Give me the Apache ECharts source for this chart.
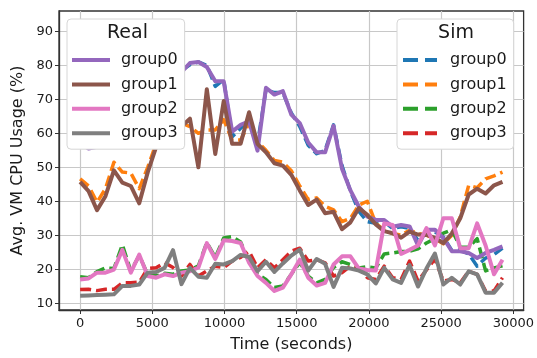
<!DOCTYPE html>
<html>
<head>
<meta charset="utf-8">
<script src="https://cdn.jsdelivr.net/npm/echarts@6/dist/echarts.min.js"></script>
<style>
  html, body { margin: 0; padding: 0; background: #fff; }
  #chart { width: 537px; height: 358px; }
</style>
</head>
<body>
<div id="chart"></div>
<script>
// Sample times (seconds)
const times = [0, 585, 1170, 1755, 2340, 2925, 3510, 4095, 4680, 5265,
  5850, 6435, 7020, 7605, 8190, 8775, 9360, 9945, 10530, 11115,
  11700, 12285, 12870, 13455, 14040, 14625, 15210, 15795, 16380, 16965,
  17550, 18135, 18720, 19305, 19890, 20475, 21060, 21645, 22230, 22815,
  23400, 23985, 24570, 25155, 25740, 26325, 26910, 27495, 28080, 28665, 29250];

const groupNames = ['group0', 'group1', 'group2', 'group3'];
const xTicks = [0, 5000, 10000, 15000, 20000, 25000, 30000];
const yTicks = [10, 20, 30, 40, 50, 60, 70, 80, 90];

// Measured CPU usage (%)
const real0 = [57, 55.5, 56, 58, 59, 58, 60, 59, 63, 68,
  72, 75, 78, 80.7, 81, 79.5, 75.3, 75.3, 60.5, 62.5,
  63.5, 54.9, 73.4, 71.4, 72.4, 65.5, 63, 57.3, 54.4, 54.4,
  62.2, 49.6, 43.2, 38.4, 35.5, 34.5, 34.5, 32.5, 33, 32.6,
  27, 31.6, 31.6, 29.2, 25.3, 25.3, 24.8, 23.3, 24.8, 25.7, 26.7];
const real1 = [45.7, 43, 37.4, 41.5, 49.1, 45.5, 44.5, 39.4, 48.5, 56,
  58, 60, 62, 64.3, 50, 73, 53.9, 69.5, 56.9, 56.9,
  66.2, 56.9, 54.4, 51.2, 50.5, 47.8, 43.2, 38.9, 40.5, 36.5,
  36.9, 31.8, 33.8, 38, 36, 33.2, 31.2, 30.6, 29.3, 31.1,
  30.2, 30.1, 29.2, 27.7, 30.5, 35, 42, 43.7, 42.3, 44.7, 45.7];
const real2 = [17, 17.3, 19, 19, 19.9, 25.7, 19, 24.3, 18, 17.5,
  18.5, 18, 19, 19.4, 20.5, 27.7, 23, 28.5, 28.3, 27.7,
  21.9, 18, 16, 13.6, 14.6, 18.5, 22.8, 17.5, 15.2, 16,
  21.4, 23.8, 23.8, 20.2, 19.8, 19.6, 33.5, 33, 24.5, 25.7,
  27, 32.1, 27, 35, 35, 26.2, 26.2, 33.5, 27, 18.5, 22.8];
const real3 = [12.2, 12.3, 12.4, 12.5, 12.6, 15.1, 15.1, 15.5, 19, 19.2,
  20.4, 25.6, 15.6, 20.4, 17.8, 17.5, 21.6, 21.4, 22.4, 24.2,
  23.6, 19.4, 22.2, 19.2, 21.7, 24, 25.8, 19.6, 23, 21.6,
  14.8, 20.4, 20.2, 19.6, 18.5, 15.8, 20.4, 17, 16, 21.2,
  14.9, 20.2, 24.6, 15.5, 17.5, 15.5, 19.4, 18.5, 13.1, 13.1, 16];

// Simulated CPU usage (%)
const sim0 = [56.5, 56, 56.5, 58.5, 59.5, 58.5, 60.5, 59.5, 63.5, 68.5,
  72.5, 75.5, 78.5, 80.2, 81, 80, 73.8, 75.8, 59, 61.5,
  63.5, 57, 72.8, 72, 72, 66, 62, 56.5, 54, 55,
  62.5, 50.5, 43, 37, 34, 33.5, 34, 32, 32.5, 32,
  28.5, 31, 31, 29.5, 25.5, 25.7, 24.5, 20.9, 23.3, 24.3, 26.2];
const sim1 = [46.6, 44.5, 39.7, 43.7, 51.5, 48.6, 48.3, 43.7, 50, 57,
  59, 61, 63, 62, 60, 61, 61, 64, 58, 58,
  63, 57.5, 55, 52, 51.5, 49, 44.5, 40.5, 41, 38.5,
  37.5, 34, 35, 38.9, 40, 33.5, 31.5, 30.5, 30, 31.5,
  30.5, 30, 29, 27.5, 30, 35.4, 44.7, 44, 46.6, 47.5, 48.6];
const sim2 = [17.8, 17.5, 19.3, 20.4, 20.2, 27.2, 19.5, 24, 18.5, 18,
  18.8, 18.5, 19.5, 19.8, 21, 27.9, 23.5, 29.2, 29.6, 28,
  22.4, 18.5, 17, 14.6, 15.1, 18.5, 22, 18, 16, 17,
  20.5, 22.2, 21.4, 20.4, 20.7, 20.4, 24.5, 24.8, 25.2, 25.3,
  26, 27.7, 29, 30.6, 31.6, 26.5, 26.5, 29, 19.5, 20.4, 21];
const sim3 = [14, 14.1, 13.7, 14.1, 14.1, 16, 16, 16.2, 20.2, 20.4,
  21.9, 20.5, 18, 21.4, 18, 19.5, 20.9, 20.5, 22.4, 23.5,
  25.3, 20.4, 22.8, 20.4, 22.8, 25.3, 26.2, 22.4, 22.8, 21.9,
  18, 19, 20.9, 20.4, 17.5, 17, 20.9, 17.5, 17, 22.4,
  16.5, 19.8, 23, 16.5, 17, 16, 19.4, 18.5, 13.6, 13.6, 17.5];

const realValues = [real0, real1, real2, real3];
const simValues = [sim0, sim1, sim2, sim3];
const realColors = ['#9467bd', '#8c564b', '#e377c2', '#7f7f7f'];
const simColors = ['#1f77b4', '#ff7f0e', '#2ca02c', '#d62728'];

const FONT = '"DejaVu Sans", "Liberation Sans", sans-serif';
const toPoints = vals => times.map((t, i) => [t, vals[i]]);

function lineSeries(name, vals, color, dashed) {
  return {
    name: name,
    type: 'line',
    data: toPoints(vals),
    symbol: 'none',
    showSymbol: false,
    animation: false,
    itemStyle: { color: color },
    lineStyle: dashed
      ? { color: color, width: 3.5, type: [11, 5], cap: 'butt', join: 'round' }
      : { color: color, width: 4, cap: 'butt', join: 'round' },
    emphasis: { disabled: true }
  };
}

// simulated lines first so the measured lines sit on top
const series = [];
groupNames.forEach((g, i) => series.push(lineSeries('Sim ' + g, simValues[i], simColors[i], true)));
groupNames.forEach((g, i) => series.push(lineSeries('Real ' + g, realValues[i], realColors[i], false)));

const legendBase = {
  orient: 'vertical',
  itemHeight: 4,
  itemGap: 6.4,
  selectedMode: false,
  backgroundColor: '#ffffff',
  borderColor: '#d6d6d6',
  borderWidth: 1,
  borderRadius: 4,
  itemStyle: { borderWidth: 0 },
  formatter: n => n.split(' ')[1],
  textStyle: { fontFamily: FONT, fontSize: 16, color: '#1a1a1a', lineHeight: 18 }
};

const xMin = -1462.5, xMax = 30712.5;

const option = {
  animation: false,
  backgroundColor: '#ffffff',
  grid: {
    left: 59, right: 13, top: 11, bottom: 45,
    show: true, borderColor: '#333333', borderWidth: 1.3, backgroundColor: 'transparent'
  },
  xAxis: {
    type: 'value', min: xMin, max: xMax,
    name: 'Time (seconds)', nameLocation: 'middle', nameGap: 27,
    nameTextStyle: { fontFamily: FONT, fontSize: 16, color: '#1a1a1a' },
    axisLine: { show: true, onZero: false, lineStyle: { color: '#333333', width: 1.3 } },
    axisTick: { show: true, length: 4, customValues: xTicks, lineStyle: { color: '#333333', width: 1 } },
    axisLabel: { customValues: xTicks, margin: 7, fontFamily: FONT, fontSize: 13, color: '#1a1a1a',
                 formatter: v => String(v) },
    splitLine: { show: true, lineStyle: { color: '#c8c8c8', width: 1.2 } }
  },
  yAxis: {
    type: 'value', min: 8, max: 96,
    name: 'Avg. VM CPU Usage (%)', nameLocation: 'middle', nameGap: 27,
    nameTextStyle: { fontFamily: FONT, fontSize: 16, color: '#1a1a1a' },
    axisLine: { show: true, onZero: false, lineStyle: { color: '#333333', width: 1.3 } },
    axisTick: { show: true, length: 4, customValues: yTicks, lineStyle: { color: '#333333', width: 1 } },
    axisLabel: { customValues: yTicks, margin: 6, fontFamily: FONT, fontSize: 13, color: '#1a1a1a',
                 formatter: v => String(v) },
    splitLine: { show: true, lineStyle: { color: '#c8c8c8', width: 1.2 } }
  },
  legend: [
    Object.assign({}, legendBase, {
      left: 67, top: 19,
      padding: [32, 7, 7, 5],
      itemWidth: 38,
      textStyle: Object.assign({}, legendBase.textStyle, { padding: [0, 0, 0, 6] }),
      data: groupNames.map(g => ({ name: 'Real ' + g, icon: 'rect' }))
    }),
    Object.assign({}, legendBase, {
      left: 397, top: 19,
      padding: [32, 7, 7, 6],
      itemWidth: 34,
      textStyle: Object.assign({}, legendBase.textStyle, { padding: [0, 0, 0, 8] }),
      data: groupNames.map(g => ({ name: 'Sim ' + g, icon: 'path://M0,0H15V4H0Z M22,0H34V4H22Z' }))
    })
  ],
  graphic: [
    { type: 'text', x: 127.5, y: 33, z: 100,
      style: { text: 'Real', font: '19px ' + FONT, fill: '#1a1a1a', align: 'center', verticalAlign: 'middle' } },
    { type: 'text', x: 456, y: 33, z: 100,
      style: { text: 'Sim', font: '19px ' + FONT, fill: '#1a1a1a', align: 'center', verticalAlign: 'middle' } }
  ],
  series: series
};

const chart = echarts.init(document.getElementById('chart'), null, { renderer: 'canvas' });
chart.setOption(option);
</script>
</body>
</html>
